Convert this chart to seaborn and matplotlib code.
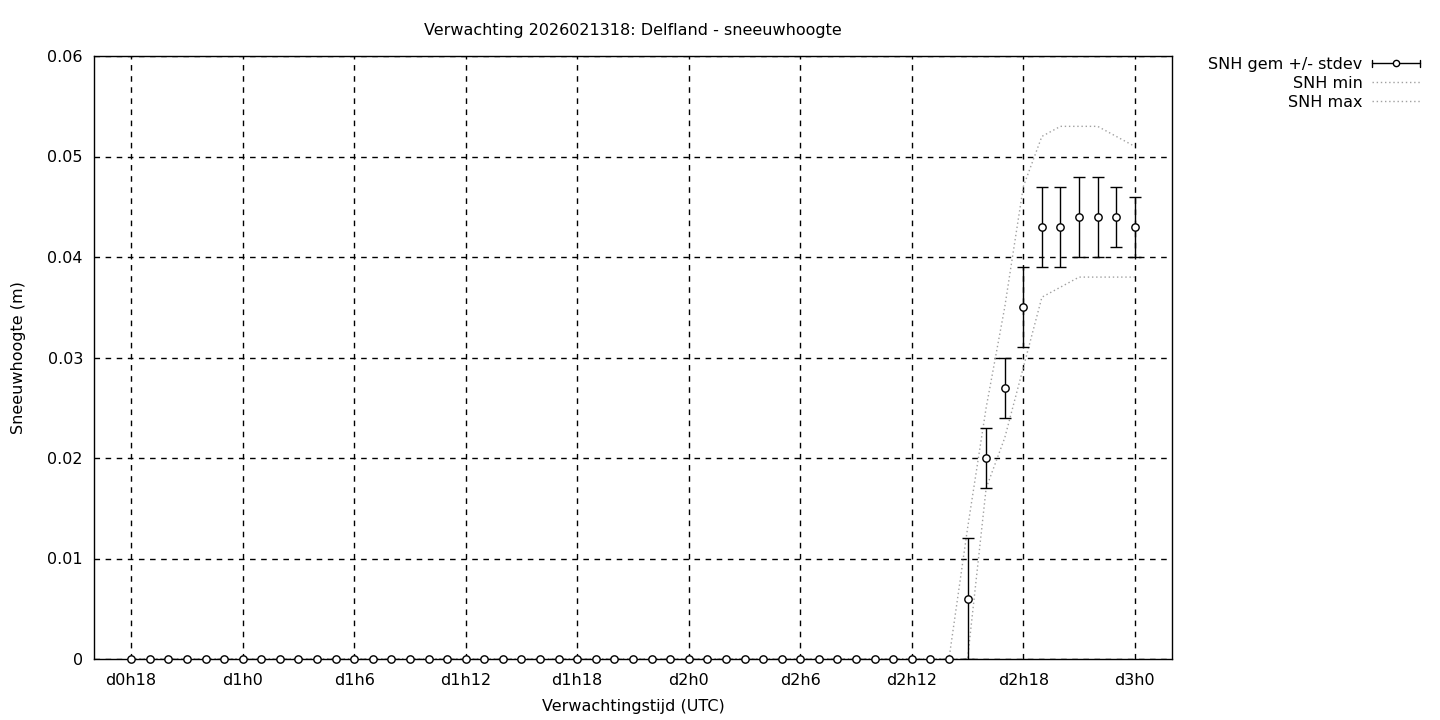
import matplotlib
matplotlib.use('Agg')
import matplotlib.pyplot as plt
import seaborn as sns
import numpy as np
import pandas as pd
from matplotlib.lines import Line2D
from matplotlib.legend_handler import HandlerBase

# forecast hours (hours after run 2026021300)
hours = [18, 19, 20, 21, 22, 23, 24, 25, 26, 27, 28, 29, 30, 31, 32, 33, 34, 35, 36,
         37, 38, 39, 40, 41, 42, 43, 44, 45, 46, 47, 48, 49, 50, 51, 52, 53, 54, 55,
         56, 57, 58, 59, 60, 61, 62, 63, 64, 65, 66, 67, 68, 69, 70, 71, 72]

snh_mean = [0, 0, 0, 0, 0, 0, 0, 0, 0, 0, 0, 0, 0, 0, 0, 0, 0, 0, 0,
            0, 0, 0, 0, 0, 0, 0, 0, 0, 0, 0, 0, 0, 0, 0, 0, 0, 0, 0,
            0, 0, 0, 0, 0, 0, 0, 0.006, 0.020, 0.027, 0.035, 0.043, 0.043, 0.044, 0.044, 0.044, 0.043]
snh_std = [0, 0, 0, 0, 0, 0, 0, 0, 0, 0, 0, 0, 0, 0, 0, 0, 0, 0, 0,
           0, 0, 0, 0, 0, 0, 0, 0, 0, 0, 0, 0, 0, 0, 0, 0, 0, 0, 0,
           0, 0, 0, 0, 0, 0, 0, 0.006, 0.003, 0.003, 0.004, 0.004, 0.004, 0.004, 0.004, 0.003, 0.003]
snh_min = [0, 0, 0, 0, 0, 0, 0, 0, 0, 0, 0, 0, 0, 0, 0, 0, 0, 0, 0,
           0, 0, 0, 0, 0, 0, 0, 0, 0, 0, 0, 0, 0, 0, 0, 0, 0, 0, 0,
           0, 0, 0, 0, 0, 0, 0, 0, 0.017, 0.022, 0.029, 0.036, 0.037, 0.038, 0.038, 0.038, 0.038]
snh_max = [0, 0, 0, 0, 0, 0, 0, 0, 0, 0, 0, 0, 0, 0, 0, 0, 0, 0, 0,
           0, 0, 0, 0, 0, 0, 0, 0, 0, 0, 0, 0, 0, 0, 0, 0, 0, 0, 0,
           0, 0, 0, 0, 0, 0, 0, 0.013, 0.025, 0.035, 0.047, 0.052, 0.053, 0.053, 0.053, 0.052, 0.051]

xtick_pos = [18, 24, 30, 36, 42, 48, 54, 60, 66, 72]
xtick_labels = ['d0h18', 'd1h0', 'd1h6', 'd1h12', 'd1h18', 'd2h0', 'd2h6', 'd2h12', 'd2h18', 'd3h0']
ytick_pos = [0, 0.01, 0.02, 0.03, 0.04, 0.05, 0.06]
ytick_labels = ['0', '0.01', '0.02', '0.03', '0.04', '0.05', '0.06']

df = pd.DataFrame({'uur': hours, 'gem': snh_mean, 'std': snh_std, 'min': snh_min, 'max': snh_max})

sns.set_style('white')
plt.rcParams['font.family'] = ['DejaVu Sans']
plt.rcParams['font.size'] = 11.5
plt.rcParams['text.color'] = 'black'
plt.rcParams['axes.labelcolor'] = 'black'
FS = 11.5


class HandlerHErr(HandlerBase):
    # gnuplot style key sample: horizontal bar with end caps and a circle
    def create_artists(self, legend, orig_handle, xdescent, ydescent, width, height, fontsize, trans):
        y = (height - ydescent) / 2.
        x0, x1 = -xdescent, width - xdescent
        c = 0.3 * height
        arts = [Line2D([x0, x1], [y, y], color='black', lw=1),
                Line2D([x0, x0], [y - c, y + c], color='black', lw=1),
                Line2D([x1, x1], [y - c, y + c], color='black', lw=1),
                Line2D([(x0 + x1) / 2], [y], marker='o', ms=4.5, mfc='white', mec='black', mew=1, ls='none')]
        for a in arts:
            a.set_transform(trans)
        return arts


fig = plt.figure(figsize=(14.4, 7.2), dpi=100)
ax = fig.add_axes([94 / 1440, 1 - 659 / 720, (1172 - 94) / 1440, (659 - 56) / 720])

dot = (0, (1, 2))
sns.lineplot(data=df, x='uur', y='min', ax=ax, color='#a0a0a0', lw=1, linestyle=dot)
sns.lineplot(data=df, x='uur', y='max', ax=ax, color='#a0a0a0', lw=1, linestyle=dot)

err = df[df['std'] > 0]
ax.errorbar(err['uur'], err['gem'], yerr=err['std'], fmt='none', ecolor='black', elinewidth=1,
            capsize=4, capthick=1, zorder=3)
sns.scatterplot(data=df, x='uur', y='gem', ax=ax, marker='o', s=28, facecolor='white',
                edgecolor='black', linewidth=1, zorder=4, clip_on=False)

ax.set_xlim(16, 74)
ax.set_ylim(0, 0.06)
ax.set_xticks(xtick_pos)
ax.set_xticklabels(xtick_labels)
ax.set_yticks(ytick_pos)
ax.set_yticklabels(ytick_labels)
ax.grid(True, color='black', lw=1, linestyle=(0, (4, 4)))
ax.tick_params(axis='both', direction='in', length=0, labelsize=FS, colors='black')
ax.tick_params(axis='x', pad=10)
ax.tick_params(axis='y', pad=8)
for s in ax.spines.values():
    s.set_color('black')
    s.set_linewidth(1)

ax.set_xlabel('Verwachtingstijd (UTC)', fontsize=FS, labelpad=8)
ax.set_ylabel('Sneeuwhoogte (m)', fontsize=FS, labelpad=15)
ax.set_title('Verwachting 2026021318: Delfland - sneeuwhoogte', fontsize=FS, pad=15)

h_err = Line2D([], [], color='black')
h_min = Line2D([], [], color='#a0a0a0', lw=1, linestyle=dot)
h_max = Line2D([], [], color='#a0a0a0', lw=1, linestyle=dot)
fig.legend([h_err, h_min, h_max], ['SNH gem +/- stdev', 'SNH min', 'SNH max'],
           loc='upper right', bbox_to_anchor=(1420 / 1440, 1 - 57 / 720), markerfirst=False,
           frameon=False, handlelength=3.0, handletextpad=0.6, labelspacing=0.25, fontsize=FS,
           borderaxespad=0, borderpad=0, handler_map={h_err: HandlerHErr()})

fig.savefig('out.png', dpi=100)
